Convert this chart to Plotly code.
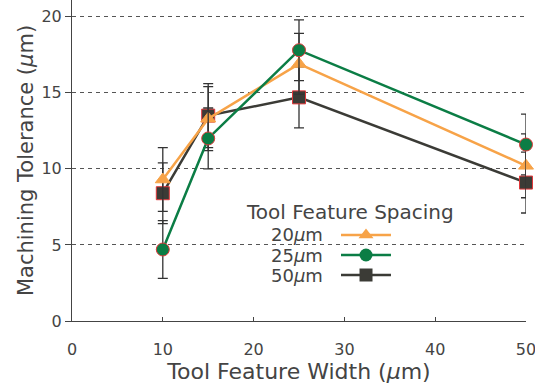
import plotly.graph_objects as go

widths = [10, 15, 25, 50]
series_names = ["20<i>μ</i>m", "25<i>μ</i>m", "50<i>μ</i>m"]
tol_20 = [9.3, 13.3, 16.9, 10.2]
err_20 = [2.1, 2.1, 2.0, 2.1]
tol_25 = [4.7, 12.0, 17.8, 11.6]
err_25 = [1.9, 2.0, 2.0, 2.0]
tol_50 = [8.4, 13.5, 14.7, 9.1]
err_50 = [2.0, 2.1, 2.0, 2.0]
x_ticks = [0, 10, 20, 30, 40, 50]
y_ticks = [0, 5, 10, 15, 20]

ORANGE = "#F7A348"
GREEN = "#0B7D45"
DARK = "#3B3B36"
RED = "#E0383A"
AX = "#444444"
FONT = "DejaVu Sans"

styles = {
    "20": dict(color=ORANGE, symbol="triangle-up", size=13, line=dict(color=ORANGE, width=1)),
    "25": dict(color=GREEN, symbol="circle", size=13, line=dict(color=RED, width=1)),
    "50": dict(color=DARK, symbol="square", size=13, line=dict(color=RED, width=1)),
}

fig = go.Figure()
for key, y, e, col in [("50", tol_50, err_50, DARK), ("20", tol_20, err_20, ORANGE), ("25", tol_25, err_25, GREEN)]:
    fig.add_trace(go.Scatter(
        x=widths, y=y, mode="lines+markers",
        line=dict(color=col, width=2.5),
        marker=styles[key], cliponaxis=False,
        error_y=dict(type="data", array=e, visible=True, color="#333333", thickness=1.3, width=5),
        showlegend=False, hoverinfo="skip",
    ))

# custom legend (symbols right of labels), on an overlay axis in 0..1 units
leg_rows = [0.268, 0.2056, 0.1433]
for (key, col), name, yy in zip([("20", ORANGE), ("25", GREEN), ("50", DARK)], series_names, leg_rows):
    fig.add_trace(go.Scatter(
        x=[0.5925, 0.7026], y=[yy, yy], mode="lines", line=dict(color=col, width=2.5),
        xaxis="x2", yaxis="y2", showlegend=False, hoverinfo="skip"))
    m = dict(styles[key])
    m["line"] = dict(color=col, width=0)
    fig.add_trace(go.Scatter(
        x=[0.6476], y=[yy], mode="markers", marker=m,
        xaxis="x2", yaxis="y2", showlegend=False, hoverinfo="skip"))
    fig.add_annotation(x=0.555, y=yy, xref="x2", yref="y2", text=name, showarrow=False,
                       xanchor="right", yanchor="middle", borderpad=0,
                       font=dict(family=FONT, size=18, color=AX))
fig.add_annotation(x=0.612, y=0.3396, xref="x2", yref="y2", text="Tool Feature Spacing",
                   showarrow=False, xanchor="center", yanchor="middle", borderpad=0,
                   font=dict(family=FONT, size=20, color=AX))

fig.update_layout(
    width=535, height=389,
    margin=dict(l=72, r=9, t=0, b=68),
    paper_bgcolor="white", plot_bgcolor="white",
    xaxis=dict(range=[0, 50], tickvals=x_ticks, ticks="inside", ticklen=4, tickcolor=AX,
               showline=True, linecolor=AX, linewidth=1, showgrid=False, zeroline=False,
               automargin=False, ticklabelstandoff=14, ticklabeloverflow="allow",
               tickfont=dict(family=FONT, size=16, color=AX),
               title=dict(text="Tool Feature Width (<i>μ</i>m)", standoff=3,
                          font=dict(family=FONT, size=22, color=AX))),
    yaxis=dict(range=[0, 21.1], tickvals=y_ticks, ticks="outside", ticklen=6, tickcolor=AX,
               showline=True, linecolor=AX, linewidth=1, zeroline=False, automargin=False,
               ticklabeloverflow="allow",
               showgrid=True, gridcolor="#555555", gridwidth=1, griddash="4px,4px",
               tickfont=dict(family=FONT, size=16, color=AX),
               title=dict(text="Machining Tolerance (<i>μ</i>m)", standoff=2,
                          font=dict(family=FONT, size=21, color=AX))),
    xaxis2=dict(range=[0, 1], overlaying="x", visible=False),
    yaxis2=dict(range=[0, 1], overlaying="y", visible=False),
)

fig.write_html("out.html", config={"displayModeBar": False},
               post_script="document.body.style.margin='0';document.body.style.overflow='hidden';")
